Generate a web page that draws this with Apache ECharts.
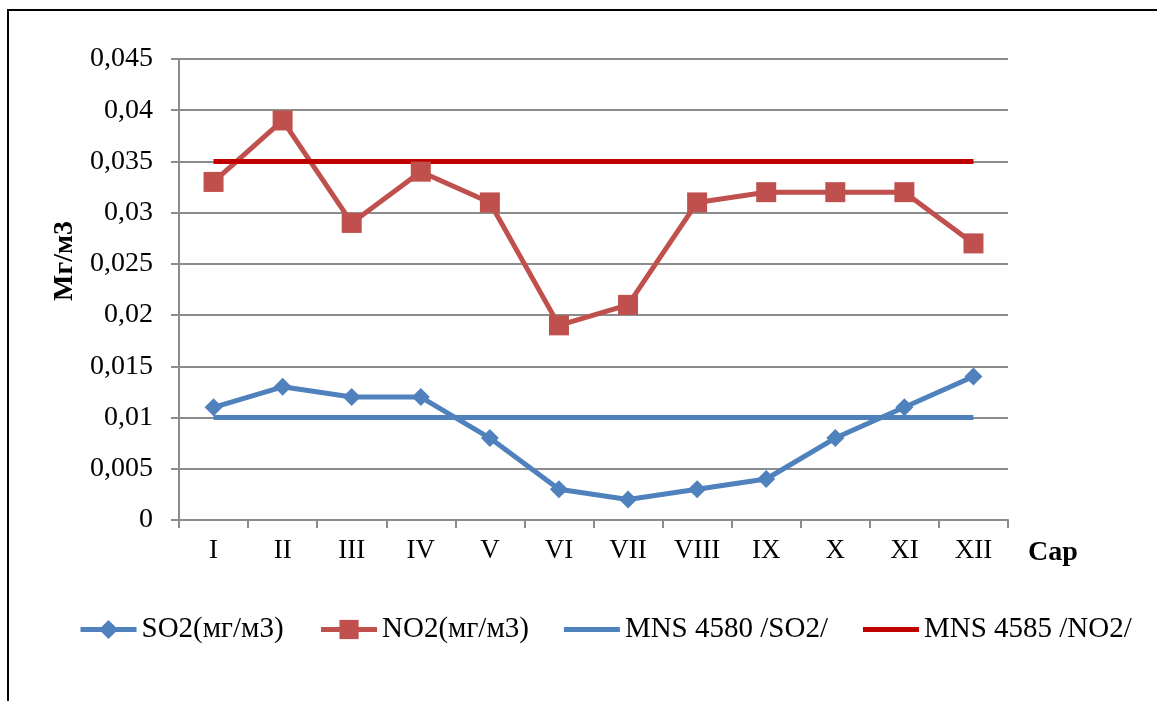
<!DOCTYPE html>
<html><head><meta charset="utf-8">
<script src="https://cdn.jsdelivr.net/npm/echarts@6/dist/echarts.min.js"></script>
<style>html,body{margin:0;padding:0;background:#fff}#c{width:1157px;height:701px}</style>
</head><body><div id="c"></div>
<script>
const categories = ['I','II','III','IV','V','VI','VII','VIII','IX','X','XI','XII'];
const so2 = [0.011,0.013,0.012,0.012,0.008,0.003,0.002,0.003,0.004,0.008,0.011,0.014];
const no2 = [0.033,0.039,0.029,0.034,0.031,0.019,0.021,0.031,0.032,0.032,0.032,0.027];
const mnsSo2 = [0.01,0.01,0.01,0.01,0.01,0.01,0.01,0.01,0.01,0.01,0.01,0.01];
const mnsNo2 = [0.035,0.035,0.035,0.035,0.035,0.035,0.035,0.035,0.035,0.035,0.035,0.035];
const seriesNames = ['SO2(мг/м3)','NO2(мг/м3)','MNS 4580 /SO2/','MNS 4585 /NO2/'];
const yName = 'Мг/м3';
const xName = 'Сар';

const FONT = '"Liberation Serif", "Times New Roman", serif';
const lineIcon = 'path://M0,0L56,0L56,5L0,5Z';
const chart = echarts.init(document.getElementById('c'), null, {renderer:'canvas'});
chart.setOption({
  animation:false,
  textStyle:{fontFamily:FONT},
  grid:{left:179,right:149,top:59,bottom:181,containLabel:false},
  legend:{
    left:78, top:615, padding:0, itemGap:35, itemWidth:56, itemHeight:24,
    lineStyle:{width:5},
    textStyle:{fontFamily:FONT,fontSize:29,color:'#000'},
    data:[
      {name:seriesNames[0]},
      {name:seriesNames[1]},
      {name:seriesNames[2],icon:lineIcon,itemStyle:{color:'#4F81BD'}},
      {name:seriesNames[3],icon:lineIcon,itemStyle:{color:'#C00000'}}
    ]
  },
  graphic:[
    {type:'rect',shape:{x:8,y:10,width:1170,height:720},style:{fill:'none',stroke:'#000',lineWidth:2},silent:true},
    {type:'text',x:1028,y:553,style:{text:xName,font:'bold 28px "Liberation Serif"',fill:'#000',textVerticalAlign:'middle'}},
    {type:'text',x:65,y:261,rotation:Math.PI/2,style:{text:yName,font:'bold 28px "Liberation Serif"',fill:'#000',textAlign:'center',textVerticalAlign:'middle'}}
  ],
  xAxis:{
    type:'category', data:categories, boundaryGap:true,
    axisLine:{lineStyle:{color:'#8c8c8c',width:2}},
    axisTick:{show:true,length:8,interval:0,lineStyle:{color:'#8c8c8c',width:2}},
    axisLabel:{fontFamily:FONT,fontSize:27,color:'#000',margin:17,interval:0}
  },
  yAxis:{
    type:'value', min:0, max:0.045, interval:0.005,
    axisLine:{show:true,lineStyle:{color:'#8c8c8c',width:2}},
    axisTick:{show:true,length:8,lineStyle:{color:'#8c8c8c',width:2}},
    splitLine:{lineStyle:{color:'#8c8c8c',width:2}},
    axisLabel:{fontFamily:FONT,fontSize:28,color:'#000',margin:26,
      formatter:v=>String(Math.round(v*1000)/1000).replace('.',',')}
  },
  series:[
    {name:seriesNames[0],type:'line',data:so2,symbol:'diamond',symbolSize:18,
      lineStyle:{color:'#4F81BD',width:5},itemStyle:{color:'#4F81BD'}},
    {name:seriesNames[1],type:'line',data:no2,symbol:'rect',symbolSize:20,
      lineStyle:{color:'#C0504D',width:5},itemStyle:{color:'#C0504D'}},
    {name:seriesNames[2],type:'line',data:mnsSo2,symbol:'none',
      lineStyle:{color:'#4F81BD',width:5},itemStyle:{color:'#4F81BD'}},
    {name:seriesNames[3],type:'line',data:mnsNo2,symbol:'none',
      lineStyle:{color:'#C00000',width:5},itemStyle:{color:'#C00000'}}
  ]
});
</script></body></html>
